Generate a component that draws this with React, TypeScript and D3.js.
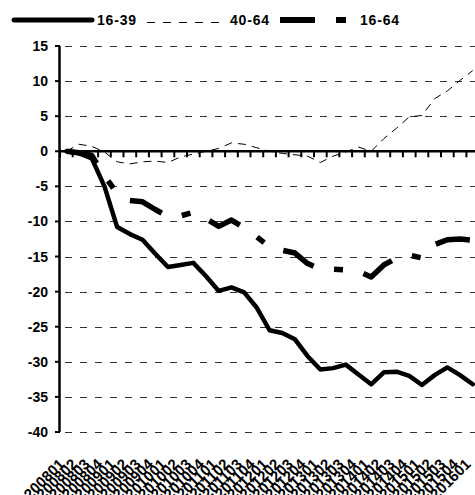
import * as d3 from "d3";
import React, { useEffect } from "react";

// quarters 2008Q1 .. 2016Q1
const quarters: string[] = [
    "200801", "200802", "200803", "200804",
    "200901", "200902", "200903", "200904",
    "201001", "201002", "201003", "201004",
    "201101", "201102", "201103", "201104",
    "201201", "201202", "201203", "201204",
    "201301", "201302", "201303", "201304",
    "201401", "201402", "201403", "201404",
    "201501", "201502", "201503", "201504",
    "201601",
];

const age1639: number[] = [
    0, -0.3, -1.0, -5.0, -10.8, -11.8, -12.6, -14.6, -16.5, -16.2, -15.9,
    -17.8, -19.9, -19.4, -20.1, -22.3, -25.5, -25.9, -26.8, -29.2, -31.1, -30.9,
    -30.4, -31.8, -33.2, -31.5, -31.4, -32.0, -33.3, -31.9, -30.8, -31.9, -33.2,
];

const age4064: number[] = [
    0, 1.0, 0.7, -0.1, -1.5, -1.8, -1.5, -1.4, -1.6, -0.8, -0.4,
    0.0, 0.4, 1.2, 1.0, 0.5, 0.0, -0.3, -0.5, -0.7, -1.6, -0.7,
    -0.1, 0.6, 0.0, 1.8, 3.3, 4.9, 5.1, 7.5, 8.6, 10.1, 11.5,
];

const age1664: number[] = [
    0, -0.2, -0.6, -3.5, -6.0, -7.0, -7.2, -8.3, -9.3, -9.2, -8.7,
    -9.6, -10.7, -9.8, -10.9, -12.2, -13.6, -14.1, -14.5, -16.0, -16.8, -16.8,
    -16.9, -17.1, -17.9, -16.2, -15.2, -14.8, -15.2, -13.3, -12.6, -12.5, -12.7,
];

const yTicks: number[] = [15, 10, 5, 0, -5, -10, -15, -20, -25, -30, -35, -40];

const FONT = "'Liberation Sans', Arial, sans-serif";

const App: React.FC = () => {
    const svgRef = React.useRef<SVGSVGElement>(null);

    useEffect(() => {
        const svg = d3.select(svgRef.current);
        svg.selectAll("*").remove();

        const left = 60;
        const x = d3.scaleBand<string>()
            .domain(quarters)
            .range([left, left + 12.7 * quarters.length]);
        const y = d3.scaleLinear().domain([-40, 15]).range([432, 46]);
        const cx = (i: number) => (x(quarters[i]) as number) + x.bandwidth() / 2;

        // gridlines
        svg.append("g")
            .selectAll("line")
            .data(yTicks.filter(t => t !== 0))
            .enter()
            .append("line")
            .attr("x1", left)
            .attr("x2", 475)
            .attr("y1", d => Math.round(y(d)) + 0.5)
            .attr("y2", d => Math.round(y(d)) + 0.5)
            .attr("stroke", "#333")
            .attr("stroke-width", 1)
            .attr("stroke-dasharray", "7 8")
            .attr("stroke-dashoffset", 10);

        // y axis
        svg.append("line")
            .attr("x1", left - 0.5).attr("x2", left - 0.5)
            .attr("y1", y(15)).attr("y2", y(-40))
            .attr("stroke", "#000").attr("stroke-width", 2.5);
        svg.append("g")
            .selectAll("line")
            .data(yTicks)
            .enter()
            .append("line")
            .attr("x1", left - 5).attr("x2", left)
            .attr("y1", d => y(d)).attr("y2", d => y(d))
            .attr("stroke", "#000").attr("stroke-width", 2);
        svg.append("g")
            .selectAll("text")
            .data(yTicks)
            .enter()
            .append("text")
            .attr("x", 48)
            .attr("y", d => y(d))
            .attr("dy", "0.36em")
            .attr("text-anchor", "end")
            .attr("font-family", FONT)
            .attr("font-weight", "bold")
            .attr("font-size", 14)
            .text(d => String(d));

        // x axis at zero with ticks between categories
        const y0 = y(0);
        svg.append("line")
            .attr("x1", left).attr("x2", 475)
            .attr("y1", y0).attr("y2", y0)
            .attr("stroke", "#000").attr("stroke-width", 2.5);
        svg.append("g")
            .selectAll("line")
            .data(quarters.map((_, i) => i))
            .enter()
            .append("line")
            .attr("x1", i => (x(quarters[i]) as number))
            .attr("x2", i => (x(quarters[i]) as number))
            .attr("y1", y0).attr("y2", y0 + 6)
            .attr("stroke", "#000").attr("stroke-width", 2);

        // x labels, rotated
        svg.append("g")
            .selectAll("text")
            .data(quarters)
            .enter()
            .append("text")
            .attr("transform", (d, i) => `translate(${cx(i) - 1},${465}) rotate(-45)`)
            .attr("text-anchor", "end")
            .attr("font-family", FONT)
            .attr("font-weight", "bold")
            .attr("font-size", 15)
            .text(d => d);

        const line = d3.line<number>()
            .x((_, i) => cx(i))
            .y(d => y(d));

        svg.append("path")
            .attr("d", line(age4064) as string)
            .attr("fill", "none")
            .attr("stroke", "#000")
            .attr("stroke-width", 1)
            .attr("stroke-dasharray", "8 6");

        svg.append("path")
            .attr("d", line(age1664) as string)
            .attr("fill", "none")
            .attr("stroke", "#000")
            .attr("stroke-width", 5.5)
            .attr("stroke-dasharray", "35 21 9 21")
            .attr("stroke-linejoin", "round");

        svg.append("path")
            .attr("d", line(age1639) as string)
            .attr("fill", "none")
            .attr("stroke", "#000")
            .attr("stroke-width", 4.5)
            .attr("stroke-linejoin", "round")
            .attr("stroke-linecap", "round");

        // legend
        const lg = svg.append("g");
        lg.append("line")
            .attr("x1", 14).attr("x2", 92).attr("y1", 20).attr("y2", 20)
            .attr("stroke", "#000").attr("stroke-width", 5).attr("stroke-linecap", "round");
        lg.append("line")
            .attr("x1", 147).attr("x2", 226).attr("y1", 22.5).attr("y2", 22.5)
            .attr("stroke", "#000").attr("stroke-width", 1).attr("stroke-dasharray", "8 8");
        lg.append("line")
            .attr("x1", 280).attr("x2", 346).attr("y1", 20).attr("y2", 20)
            .attr("stroke", "#000").attr("stroke-width", 6).attr("stroke-dasharray", "35 21 10 21");
        const legendText: [string, number][] = [["16-39", 97], ["40-64", 230], ["16-64", 360]];
        lg.selectAll("text")
            .data(legendText)
            .enter()
            .append("text")
            .attr("x", d => d[1])
            .attr("y", 25)
            .attr("font-family", FONT)
            .attr("font-weight", "bold")
            .attr("font-size", 14)
            .attr("letter-spacing", 0.8)
            .text(d => d[0]);
    }, []);

    return (
        <svg
            ref={svgRef}
            width={475}
            height={495}
            style={{ position: "absolute", left: 0, top: 0, background: "#fff" }}
        />
    );
};

export default App;
